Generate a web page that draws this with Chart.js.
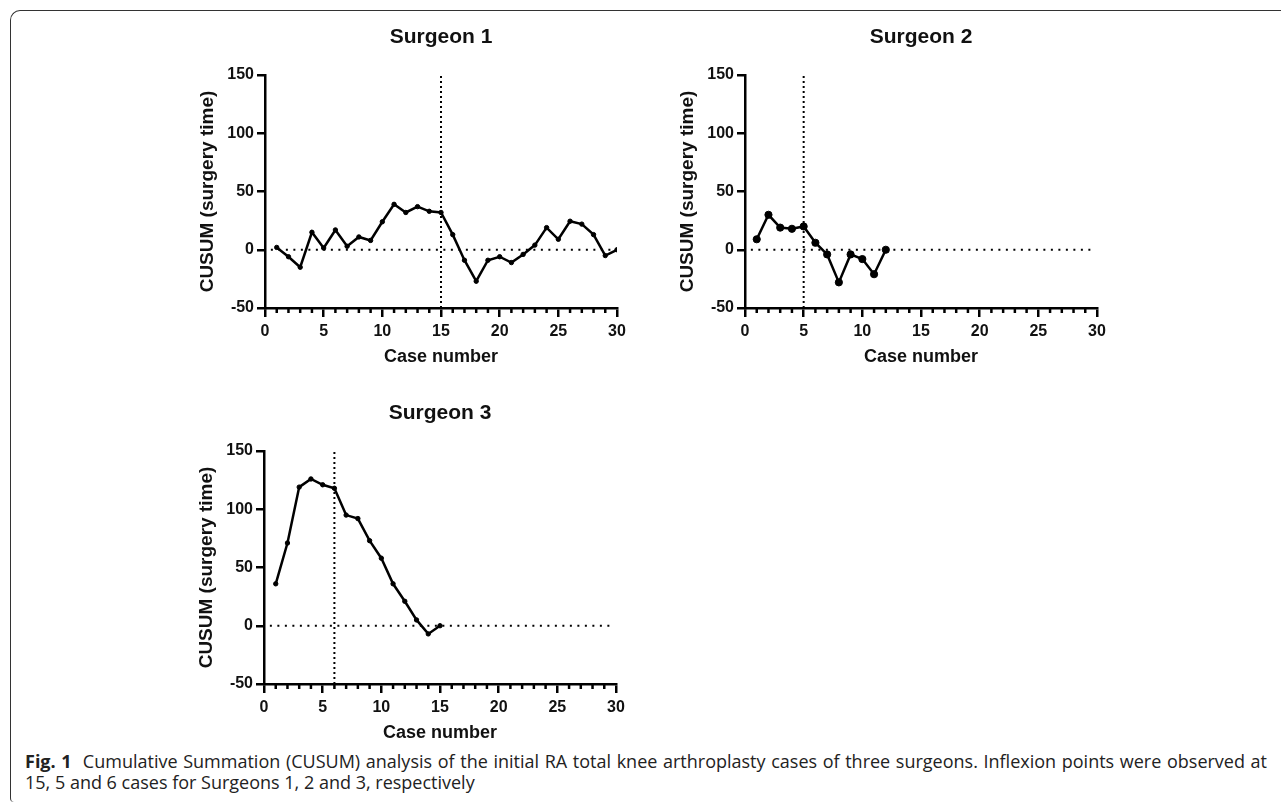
<!DOCTYPE html>
<html>
<head>
<meta charset="utf-8">
<script src="https://cdn.jsdelivr.net/npm/chart.js@4.4.1/dist/chart.umd.min.js"></script>
<style>
  body { margin: 0; background: #fff; width: 1281px; height: 803px; overflow: hidden; position: relative; }
  .frame { position: absolute; left: 10px; top: 10px; width: 1300px; height: 791px;
           border-top: 1.5px solid #333; border-left: 1.5px solid #333;
           border-top-left-radius: 10px; border-bottom-left-radius: 4px; }
  canvas { position: absolute; }
  .caption { position: absolute; left: 25px; top: 751px; width: 1242px; font-family: 'Open Sans', sans-serif;
             font-size: 18px; line-height: 21px; color: #222; }
  .caption .l1 { text-align: justify; text-align-last: justify; white-space: nowrap; }
  .caption .l2 { white-space: nowrap; }
  .caption b { font-weight: 700; }
</style>
</head>
<body>
<div class="frame"></div>
<canvas id="s1" width="460" height="352" style="left:180px;top:20px"></canvas>
<canvas id="s2" width="460" height="352" style="left:660px;top:20px"></canvas>
<canvas id="s3" width="460" height="352" style="left:179px;top:396px"></canvas>
<div class="caption">
  <div class="l1"><b>Fig. 1</b>&nbsp; Cumulative Summation (CUSUM) analysis of the initial RA total knee arthroplasty cases of three surgeons. Inflexion points were observed at</div>
  <div class="l2">15, 5 and 6 cases for Surgeons 1, 2 and 3, respectively</div>
</div>

<script>
// case numbers and CUSUM values
const cases1 = [1, 2, 3, 4, 5, 6, 7, 8, 9, 10, 11, 12, 13, 14, 15, 16, 17, 18, 19, 20, 21, 22, 23, 24, 25, 26, 27, 28, 29, 30];
const cusum1 = [2, -6, -15, 15, 1.5, 17, 3, 11, 8, 24, 39, 32, 37, 33, 32, 13, -9, -27, -9, -6, -11, -4, 4, 19, 9, 24.5, 22, 13, -5, 0];

const cases2 = [1, 2, 3, 4, 5, 6, 7, 8, 9, 10, 11, 12];
const cusum2 = [9, 30, 19, 18, 20, 6, -4, -28, -4, -8, -21, 0];

const cases3 = [1, 2, 3, 4, 5, 6, 7, 8, 9, 10, 11, 12, 13, 14, 15];
const cusum3 = [36, 71, 119, 126, 121, 118, 95, 92, 73, 58, 36, 21, 5, -7, 0];

const titles = ['Surgeon 1', 'Surgeon 2', 'Surgeon 3'];
const inflexion = [15, 5, 6];

const xTickValues = [0, 5, 10, 15, 20, 25, 30];
const xMinorTicks = [1, 2, 3, 4, 6, 7, 8, 9, 11, 12, 13, 14, 16, 17, 18, 19, 21, 22, 23, 24, 26, 27, 28, 29];
const yTickValues = [-50, 0, 50, 100, 150];
const zeroLineFrom = 0.5, zeroLineTo = 29.5;

const FONT = "'Liberation Sans', Arial, sans-serif";
const INK = '#111';

// short unlabelled ticks between the major ones
const minorTicks = {
  id: 'minorTicks',
  afterDraw(chart) {
    const xs = chart.scales.x;
    const y0 = chart.chartArea.bottom;
    const ctx = chart.ctx;
    ctx.save();
    ctx.strokeStyle = '#000';
    ctx.lineWidth = 2.5;
    xMinorTicks.forEach(v => {
      const px = xs.getPixelForValue(v);
      ctx.beginPath();
      ctx.moveTo(px, y0);
      ctx.lineTo(px, y0 + 5);
      ctx.stroke();
    });
    ctx.restore();
  }
};

function makeChart(id, title, xs, ys, inflex, radius) {
  const ctx = document.getElementById(id).getContext('2d');
  return new Chart(ctx, {
    type: 'line',
    data: {
      datasets: [
        {
          data: xs.map((x, i) => ({ x: x, y: ys[i] })),
          borderColor: '#000',
          backgroundColor: '#000',
          borderWidth: 2.5,
          pointRadius: radius,
          pointBorderWidth: 1,
          pointBackgroundColor: '#000',
          pointBorderColor: '#000',
          tension: 0
        },
        {
          data: [{ x: zeroLineFrom, y: 0 }, { x: zeroLineTo, y: 0 }],
          borderColor: '#000',
          borderWidth: 2,
          borderDash: [2, 5.5],
          pointRadius: 0,
          clip: false
        },
        {
          data: [{ x: inflex, y: yTickValues[0] }, { x: inflex, y: yTickValues[yTickValues.length - 1] }],
          borderColor: '#000',
          borderWidth: 2,
          borderDash: [2, 3],
          pointRadius: 0,
          clip: false
        }
      ]
    },
    options: {
      responsive: false,
      animation: false,
      devicePixelRatio: 1,
      layout: { padding: { left: 0, right: 23, top: 0, bottom: 0 } },
      plugins: {
        legend: { display: false },
        tooltip: { enabled: false },
        title: {
          display: true,
          text: title,
          fullSize: false,
          color: INK,
          font: { family: FONT, size: 21, weight: 'bold' },
          padding: { top: 5, bottom: 24.8 }
        }
      },
      scales: {
        x: {
          type: 'linear',
          min: xTickValues[0],
          max: xTickValues[xTickValues.length - 1],
          afterBuildTicks: s => { s.ticks = xTickValues.map(v => ({ value: v })); },
          afterFit: s => { s.height = 64; },
          ticks: { color: INK, font: { family: FONT, size: 16, weight: 'bold' }, padding: 5, maxRotation: 0, autoSkip: false },
          grid: { drawOnChartArea: false, drawTicks: true, tickLength: 9, tickWidth: 2.5, tickColor: '#000', color: '#000', lineWidth: 2.5 },
          border: { display: true, color: '#000', width: 2.5 },
          title: { display: true, text: 'Case number', color: INK, font: { family: FONT, size: 18, weight: 'bold' }, padding: { top: 0, bottom: 4 } }
        },
        y: {
          type: 'linear',
          min: yTickValues[0],
          max: yTickValues[yTickValues.length - 1],
          afterBuildTicks: s => { s.ticks = yTickValues.map(v => ({ value: v })); },
          afterFit: s => { s.width = 85; },
          ticks: { color: INK, font: { family: FONT, size: 16, weight: 'bold' }, padding: 3 },
          grid: { drawOnChartArea: false, drawTicks: true, tickLength: 8, tickWidth: 2.5, tickColor: '#000', color: '#000', lineWidth: 2.5 },
          border: { display: true, color: '#000', width: 2.5 },
          title: { display: true, text: 'CUSUM (surgery time)', color: INK, font: { family: FONT, size: 19, weight: 'bold' }, padding: { top: 16.6, bottom: 0 } }
        }
      }
    },
    plugins: [minorTicks]
  });
}

makeChart('s1', titles[0], cases1, cusum1, inflexion[0], 2.2);
makeChart('s2', titles[1], cases2, cusum2, inflexion[1], 3.6);
makeChart('s3', titles[2], cases3, cusum3, inflexion[2], 2.2);
</script>
</body>
</html>
